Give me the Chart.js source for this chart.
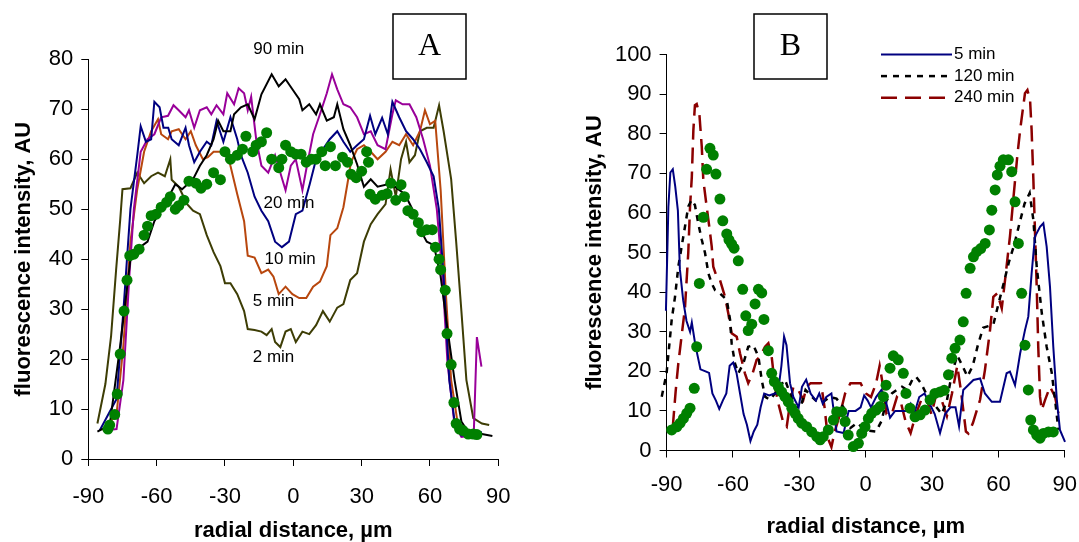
<!DOCTYPE html>
<html>
<head>
<meta charset="utf-8">
<title>Fluorescence intensity profiles</title>
<script src="https://cdn.jsdelivr.net/npm/chart.js@4.4.1/dist/chart.umd.min.js"></script>
<style>
    html, body { margin: 0; padding: 0; background: #ffffff; }
    #wrap { position: relative; width: 1079px; height: 542px; overflow: hidden; background: #ffffff; }
    canvas { position: absolute; top: 0; }
    #chartA { left: 0; }
    #chartB { left: 540px; }
</style>
</head>
<body>
<div id="wrap">
    <canvas id="chartA" width="540" height="542"></canvas>
    <canvas id="chartB" width="539" height="542"></canvas>
</div>
<script>
// ============================================================
// Data — panel A (radial distance, µm / fluorescence, AU)
// ============================================================

const xTicks = [-90, -60, -30, 0, 30, 60, 90];

const a90X = [-86, -80.6, -76, -71.5, -68.5, -64, -61, -56.4, -51.8, -48.8, -44, -41, -38, -35, -33, -30.7, -27.6, -26, -23, -20, -17, -14, -9.5, -6.4, -3.4, -0.4, 2.6, 4, 7, 10, 11.7, 14.7, 17.8, 19.3, 22, 25, 28, 31, 34, 37, 41.5, 44.6, 49, 52.6, 55.6, 58.6, 61.7, 64.7, 67.7, 70.8, 73.8, 76.8, 82.8, 87.4];
const a90Y = [5.5, 6.8, 22.7, 40, 42, 43.5, 47.6, 51, 55, 54, 56, 58.7, 60.8, 64, 67.7, 65.6, 65.6, 69, 70.4, 71, 68, 73, 77, 74.6, 76, 74, 72, 69.8, 71, 69, 71, 67.7, 68.4, 71, 66, 62.8, 59, 54.5, 56, 54.5, 55, 54.5, 53, 49.7, 46, 43.5, 42.8, 36.5, 26, 15.8, 7.5, 5.4, 5, 4.6];

const a20X = [-85, -77.6, -74.6, -71.5, -68.5, -67, -64.7, -62.4, -61, -58.7, -57, -54.9, -53.4, -50.3, -47.3, -45.8, -43.5, -41, -38, -36, -33.7, -30.7, -27.6, -24.6, -23, -20, -17, -14, -11, -8, -5, -1.9, 1.1, 4, 7.2, 10, 13, 16, 19.3, 22, 25, 28, 31, 33.7, 36, 39, 41.5, 43.5, 46.5, 49.5, 52.6, 55.6, 58.6, 61.6, 63.9, 66, 68.5, 70.8, 73.8, 79.9, 82.8];
const a20Y = [5.7, 12, 29.6, 50, 60.8, 66.6, 63.5, 64, 71.5, 70.4, 66.3, 66.3, 64, 62.8, 66.3, 62.8, 59.4, 61.5, 63.5, 62.8, 67.7, 63.5, 68.4, 64, 60.8, 57.3, 52.5, 49.7, 47.6, 43.5, 42.4, 43.5, 49, 49.7, 55, 60, 62, 64, 65.6, 63.5, 61.5, 62.8, 64, 68.7, 65, 68.3, 65, 71.5, 68.4, 65.6, 64, 62, 59.4, 56.6, 50, 36.5, 15.8, 7.5, 4.7, 5, 5.4];

const aPurpleX = [-83.6, -77.6, -74.6, -72, -70, -67, -64, -61, -58, -55, -52.6, -50.3, -47.3, -45.8, -43.5, -41, -38, -36, -33.7, -30.7, -29, -26, -24, -21.6, -20, -18.5, -16.3, -14, -11, -8, -5.7, -3.4, -1.1, 1.1, 4, 5.7, 8.7, 11.7, 14.7, 17, 19.3, 22, 25, 28, 31, 34, 37, 40.5, 43.5, 45, 48, 51, 54, 57, 60, 63, 65.5, 67.7, 70.8, 73.8, 79.2, 80.6, 82.6];
const aPurpleY = [5.7, 6, 15.8, 36.5, 50, 61.5, 64, 65, 68.4, 68.7, 70.8, 69.8, 68.4, 69.8, 66.3, 69.8, 70.4, 69, 70.8, 69, 73.2, 71, 74.2, 73.2, 69.8, 72.5, 64, 58.7, 57.3, 60.8, 57.3, 53.8, 58.7, 60, 53.8, 58, 65, 69, 73.2, 77, 74, 71, 70.4, 68.4, 65, 65.6, 62.8, 62, 69, 71.8, 71, 71, 68.4, 64, 58.7, 50, 36.5, 19.2, 6.8, 4.4, 4.7, 24.4, 18.5];

const a10X = [-83.6, -77.6, -74.6, -71.5, -68.5, -65.5, -62.4, -59.4, -58, -55, -53.4, -50.3, -47.3, -45, -42.8, -39.7, -37.5, -35, -32, -29, -27.6, -24.6, -21.6, -20, -17, -14, -11, -8.7, -6.4, -3.4, -0.4, 2.6, 5.7, 8.7, 11.7, 14.7, 16.3, 19.3, 22, 23.8, 25.3, 28, 31, 34, 37, 40.5, 43.5, 46.5, 49.5, 52.6, 55.6, 57.8, 60, 62.3, 64.7, 67, 69.3, 72.3, 75.3, 80];
const a10Y = [5.7, 8.9, 22.7, 43.5, 54, 61.5, 65.6, 68, 65, 64, 65.6, 66, 64, 65.6, 62.8, 60, 60.4, 61.5, 61.5, 62, 58.7, 53, 47.6, 40.7, 40.3, 37.2, 37.9, 36.5, 33, 34.5, 33, 32.2, 32.2, 34.5, 35.5, 38.6, 44.8, 46.2, 50.4, 55.2, 59.4, 62, 62.8, 61.5, 60, 61.5, 63.5, 62.8, 65, 62.8, 65.6, 69.8, 67, 67.7, 53.8, 33, 15.8, 6.8, 4.7, 4.6];

const a2X = [-86, -82.5, -80, -77.8, -76, -75, -71.5, -68.5, -65.5, -62.4, -59.4, -56.4, -54, -53.4, -50.3, -46.6, -44, -41, -38, -35, -32, -30, -27.6, -24.6, -21.6, -20, -17, -14, -11.7, -9.5, -8, -5.7, -3.4, -1.1, 1.1, 4, 7, 10, 13, 16, 19.3, 22, 25, 28, 31, 34, 37, 40.5, 42.7, 45, 47.3, 49.5, 51, 53.4, 55.6, 58.6, 61.6, 64, 66, 69.3, 71.5, 73.8, 76, 79, 82.8, 86];
const a2Y = [7.1, 15, 24.6, 37.8, 47.8, 54, 54.2, 57.3, 55.2, 56.6, 57.3, 56.6, 60, 55.9, 54.5, 51, 49.7, 49, 44.8, 41.4, 38.6, 35.2, 35.2, 33, 29.6, 26, 25.8, 25.5, 24.8, 26, 23.4, 22.4, 25.5, 26, 23.4, 25.5, 25, 26.8, 29.6, 27.5, 30.3, 31, 35.8, 37.2, 43.5, 47, 49, 51, 58, 52.5, 60, 63.5, 59.4, 60.8, 65.6, 66.3, 66.3, 70.8, 65.6, 56, 43.5, 29.6, 15.8, 8.2, 7.1, 6.8];

const aDotsX = [-81.4, -80.6, -78.4, -77.3, -76, -74.3, -73, -71.8, -70, -67.7, -65.5, -64, -62.4, -60.2, -58, -55.6, -54, -51.8, -50.3, -48, -45.8, -42.8, -40.5, -38, -35, -32, -30, -27.6, -24.6, -22.3, -20.8, -17.8, -16.3, -14, -11.7, -9.5, -6.4, -5, -3.4, -1.1, 1.1, 3.4, 5.7, 8, 10, 12.5, 14, 16.3, 18.5, 21.6, 23.8, 25.3, 27.6, 30, 32.2, 33, 33.7, 36, 39, 41.2, 42.8, 45, 47.3, 48.8, 50.3, 52.6, 54.9, 56.4, 58.6, 61, 62.4, 64, 64.7, 66.7, 67.5, 69.3, 70.5, 71.5, 73, 74.5, 76.8, 79, 80.6];
const aDotsY = [6, 6.8, 8.9, 13, 21, 29.6, 35.8, 40.7, 41, 42, 44.8, 46.6, 48.7, 49, 50.4, 51.4, 52.5, 50, 50.7, 51.8, 55.6, 55.2, 54.2, 55, 57.3, 55.9, 61.5, 60, 60.8, 62, 64.6, 61.5, 62.8, 63.5, 65.3, 60, 58.3, 60, 62.8, 61.5, 61, 61, 59.4, 60, 60, 61.5, 58.7, 62.5, 58.7, 60.4, 59.4, 57, 56.3, 57.6, 61.5, 59.4, 53, 52, 52.8, 53.1, 55.2, 51.8, 54.9, 52.5, 49.7, 49, 47.3, 45.5, 45.9, 45.9, 42.4, 40, 37.9, 33.8, 25.1, 18.9, 11.3, 7.1, 6, 5.7, 5, 5, 4.9];

// ============================================================
// Data — panel B
// ============================================================

const b5X = [-91.6, -90.3, -89.2, -88.3, -87.2, -86.1, -84.9, -84, -82.5, -81, -79.4, -78.6, -77, -74.7, -72.4, -70.8, -69.3, -67.7, -66.2, -64.6, -63, -61.5, -59.9, -58.4, -56.8, -55.2, -53.7, -52.1, -50.6, -49, -47.5, -45.9, -43.6, -41.2, -39.7, -38.1, -36.9, -35.8, -34.2, -32.7, -30.3, -28.8, -26.9, -24.9, -22.5, -21, -19.4, -17.8, -15.5, -13.2, -10, -7.7, -4.6, -2.3, -0.7, 0.9, 2.4, 4.7, 7.1, 8.6, 11, 13.3, 15.7, 18, 20.3, 21.9, 24.2, 26.6, 28.9, 31.2, 33.6, 35.9, 38.3, 40.6, 42.2, 44.1, 48.7, 51.7, 53.9, 57, 60.7, 63.7, 65.2, 67.5, 69.8, 72, 73.5, 75, 76.5, 78.8, 80.3, 81.8, 83.3, 84.8, 86.4, 87.8, 90.1, 92.4, 93.6];
const b5Y = [17.9, 35.3, 61.5, 70.2, 71, 66.7, 60.6, 45.8, 37.9, 32.7, 30, 32.3, 26.6, 20.5, 20, 19.6, 14.4, 12.6, 10.5, 12.6, 14.4, 21.4, 22.2, 19.6, 14.4, 9.2, 6.5, 2.4, 4.8, 6.5, 10.9, 14.4, 13.9, 14.4, 14.4, 21.4, 28.8, 26.6, 17, 13.5, 10.9, 16.1, 17.9, 14.4, 12.6, 14.4, 11.8, 13.5, 14.4, 4.8, 4.4, 10, 10, 10.9, 13.9, 12.6, 10.9, 13.5, 15.3, 13.5, 8.3, 10, 10, 10, 11.8, 9.2, 13.5, 14.4, 11.8, 9.2, 4.4, 9.2, 10.9, 10.9, 6.1, 15.3, 17.8, 18.2, 14.4, 12.3, 12.3, 19.5, 19.9, 16.5, 24.5, 30.4, 33.8, 44.7, 54, 56.5, 57.4, 51.5, 41.4, 26.2, 12.8, 5.2, 2.2, 4.3, 5.7];

const b120X = [-92.2, -90, -87.7, -86.2, -84.7, -83.2, -81.7, -80.2, -78.7, -77.2, -75.7, -74.1, -72.6, -71.1, -69.6, -68.1, -65.9, -62.8, -61.3, -60.6, -59.1, -57.6, -55.3, -53.1, -50.8, -48.5, -47, -45.5, -43.3, -41, -38.9, -36.5, -34.2, -31.9, -29.5, -27.2, -24.9, -22.5, -19.4, -16.3, -13.2, -10, -6.9, -3.8, -1.5, 1.6, 4.7, 7.1, 9.4, 11.8, 14.1, 16.4, 18.8, 21.1, 22.7, 25, 27.3, 29.7, 32, 34.4, 36.7, 39, 41.4, 43.7, 46, 48.4, 50.7, 53.1, 55.4, 57.7, 60, 62.4, 64.7, 67.1, 69.4, 71.8, 74.1, 75.8, 77.3, 79.6, 81.8, 84.1, 85.6, 87.1];
const b120Y = [13.6, 19.5, 33, 38.8, 46.4, 51.5, 56.5, 61.6, 63.3, 62, 57.4, 53.2, 49.8, 44.7, 42.2, 40.5, 39.7, 38, 33, 27.1, 22, 19.5, 22, 26.2, 26.6, 23.7, 17.8, 13.6, 12.8, 14.4, 16.1, 17.9, 14.4, 10.9, 10.9, 15.3, 13.9, 12.6, 12.2, 13.5, 13.1, 10.9, 5.7, 7, 5.7, 5, 4.8, 7.4, 12.6, 14.4, 15.3, 16.1, 15.3, 17.9, 18.7, 17, 14.4, 12.6, 10.9, 9.2, 12.6, 19.6, 24, 21.4, 18.7, 21.4, 26.6, 31, 31.4, 31.8, 37, 42.3, 47.5, 51.9, 57.1, 62.3, 65, 58.2, 46.4, 34.7, 26.2, 19.6, 12.8, 5.2];

const b240X = [-87.2, -85.9, -84.7, -83.2, -81.7, -80.2, -79.4, -78.6, -77.9, -77.2, -76.4, -75.2, -74.1, -73.4, -71.9, -70.7, -69.6, -68.9, -67.4, -65.9, -63.6, -62.1, -60.6, -58.3, -56.8, -54.6, -53.1, -51.1, -49.3, -47.8, -45.5, -44, -42.5, -41, -39.5, -37.2, -35.7, -34.2, -32.7, -30.5, -28.2, -26.7, -24.9, -22.5, -20.2, -18.6, -17.1, -15.5, -14, -11.6, -9.3, -6.9, -4.6, -2.3, 0.1, 2.4, 4.7, 6.3, 7.9, 9.4, 11.8, 14.1, 15.7, 18, 20.3, 22.7, 25, 27.3, 29.7, 32, 34.4, 36.7, 39, 41.4, 43, 45.3, 46.4, 48.5, 51.7, 53.9, 56.2, 57.7, 59.5, 61.5, 63, 65.2, 66.7, 68.5, 69.8, 71, 72, 73.1, 74.3, 75, 75.8, 76.5, 77.3, 78, 78.8, 79.6, 81.1, 83.3, 85.6, 87.1];
const b240Y = [6, 15, 22, 29, 36, 50, 61.6, 69.1, 80.9, 87.2, 87.5, 85.1, 76.7, 68.3, 61.6, 56.5, 51.5, 46.4, 43.9, 43.1, 38.8, 34.6, 29.6, 28.7, 24.5, 19.5, 17, 19.5, 22.9, 23.7, 26.2, 27.1, 23.7, 16.1, 11.9, 6.9, 6, 11.9, 16.1, 15.3, 12.8, 16.1, 17, 17, 17, 10.9, 3.1, 0.9, 4.8, 9.2, 14.4, 17, 17, 17, 14.4, 13.5, 17, 21.4, 16.1, 9.2, 9.2, 13.5, 12.6, 7.4, 4.4, 9.2, 12.6, 13.5, 9.2, 14.4, 12.6, 8.7, 14.4, 21.4, 15.3, 4.8, 4.3, 7, 12.8, 20.3, 30.4, 38.8, 39.7, 35.9, 43.1, 54, 63.3, 74.2, 80.9, 86, 90.2, 91, 88.5, 80.9, 68.3, 55.7, 41.4, 26.2, 13.6, 10.2, 12.8, 16.1, 13.6, 9.4];

const bDotsX = [-87.7, -85.4, -83.9, -82.4, -80.9, -79.4, -77.5, -76.4, -75.2, -73.4, -71.9, -70.4, -68.9, -67.7, -65.9, -64.6, -62.8, -61.8, -60.6, -59.5, -57.6, -55.6, -54.2, -53.1, -51.5, -50, -48.5, -47, -46, -44, -42.5, -41.3, -39.5, -38, -36.5, -35, -33.4, -31.9, -30.5, -28.9, -26.7, -24.4, -22.1, -20.6, -19.2, -16.9, -14.6, -13.1, -10.8, -9.3, -7.9, -5.6, -3.3, -1.8, -0.3, 1.2, 2.7, 4.7, 6.5, 8, 9.2, 11, 12.5, 14.7, 17, 18.2, 20, 22.3, 24.6, 26.8, 29.1, 31.3, 33.6, 35.5, 37.4, 38.9, 40.4, 42.6, 44.1, 45.4, 47.2, 48.7, 50.2, 52, 54, 55.9, 57, 58.5, 59.5, 60.7, 62.2, 64.5, 66, 67.5, 69, 70.5, 72, 73.5, 74.6, 75.8, 77.3, 78.8, 80.3, 82.6, 84.8];
const bDotsY = [5.2, 6, 6.9, 8.1, 9.4, 10.7, 15.7, 26.2, 42.2, 58.9, 71, 76.3, 74.6, 69.8, 63.5, 58, 54.7, 53.2, 52.1, 51.1, 47.9, 40.7, 34, 30.3, 31.9, 37, 40.7, 39.8, 33.1, 25.2, 19.5, 17.4, 16.1, 14.8, 13.6, 12.3, 10.7, 9.4, 8.1, 6.9, 6, 4.7, 3.5, 2.7, 3.5, 5.2, 7.7, 9.8, 9.8, 7.3, 3.9, 1, 1.8, 4.3, 6, 8.1, 9.4, 10.2, 11.1, 13.6, 16.5, 20.8, 23.9, 22.9, 19.5, 14.4, 10.7, 8.5, 9, 10.2, 12.8, 14.4, 14.8, 15.2, 19.1, 23.3, 25.8, 27.9, 32.5, 39.7, 46, 48.9, 50.2, 51, 52.3, 55.7, 60.7, 65.8, 69.6, 71.8, 73.4, 73.4, 70.4, 62.8, 52.3, 39.7, 26.6, 15.3, 7.7, 5.2, 3.9, 3.1, 4.3, 4.7, 4.7];

// ============================================================
// Styling
// ============================================================

const FONT = '"Liberation Sans", Arial, sans-serif';
const TICK_FONT = { family: FONT, size: 22 };
const TITLE_FONT = { family: FONT, size: 22, weight: 'bold' };
const DOT_GREEN = '#008000';

function toPoints(xs, ys) {
    return xs.map((x, i) => ({ x: x, y: ys[i] }));
}

function lineSet(label, xs, ys, color, dash, width, order) {
    return {
        label,
        data: toPoints(xs, ys),
        showLine: true,
        borderColor: color,
        backgroundColor: color,
        borderWidth: width || 2,
        borderDash: dash || [],
        pointRadius: 0,
        tension: 0,
        fill: false,
        clip: false,
        order: order,
    };
}

function dotSet(label, xs, ys) {
    return {
        label,
        data: toPoints(xs, ys),
        showLine: false,
        pointRadius: 5.5,
        pointBackgroundColor: DOT_GREEN,
        pointBorderWidth: 0,
        clip: false,
        order: 0,
    };
}

function xAxis(height, labelPad, titlePad, titleLineHeight) {
    return {
        type: 'linear',
        min: -90,
        max: 90,
        afterBuildTicks: scale => { scale.ticks = xTicks.map(v => ({ value: v })); },
        afterFit: scale => { scale.height = height; scale.paddingLeft = 0; scale.paddingRight = 0; },
        ticks: { color: '#000', font: TICK_FONT, padding: labelPad, maxRotation: 0, autoSkip: false },
        grid: { display: true, drawOnChartArea: false, drawTicks: true, tickLength: 7, color: '#000', tickColor: '#000', lineWidth: 1 },
        border: { display: true, color: '#000', width: 1 },
        title: {
            display: true,
            text: 'radial distance, µm',
            color: '#000',
            font: { ...TITLE_FONT, lineHeight: titleLineHeight },
            padding: { top: 0, bottom: titlePad },
        },
    };
}

function yAxis(max, width, titlePad) {
    return {
        type: 'linear',
        min: 0,
        max: max,
        afterFit: scale => { scale.width = width; scale.paddingTop = 0; scale.paddingBottom = 0; },
        ticks: { stepSize: 10, color: '#000', font: TICK_FONT, padding: 8 },
        grid: { display: true, drawOnChartArea: false, drawTicks: true, tickLength: 7, color: '#000', tickColor: '#000', lineWidth: 1 },
        border: { display: true, color: '#000', width: 1 },
        title: { display: true, text: 'fluorescence intensity, AU', color: '#000', font: TITLE_FONT, padding: { top: titlePad, bottom: 0 } },
    };
}

/**
 * Panel letter box, curve notes and a line-sample legend
 */
const panelDecor = {
    id: 'panelDecor',
    afterDatasetsDraw(chart, args, opts) {
        const ctx = chart.ctx;
        const xs = chart.scales.x;
        const ys = chart.scales.y;
        ctx.save();

        if (opts.box) {
            const b = opts.box;
            ctx.strokeStyle = '#000';
            ctx.lineWidth = 1.5;
            ctx.strokeRect(b.left, b.top, b.width, b.height);
            ctx.fillStyle = '#000';
            ctx.font = '32px "Liberation Serif", "Times New Roman", serif';
            ctx.textAlign = 'center';
            ctx.textBaseline = 'middle';
            ctx.fillText(b.text, b.left + b.width / 2, b.top + b.height / 2);
        }

        (opts.notes || []).forEach(n => {
            ctx.fillStyle = '#000';
            ctx.font = '17px ' + FONT;
            ctx.textAlign = 'center';
            ctx.textBaseline = 'middle';
            ctx.fillText(n.text, xs.getPixelForValue(n.x), ys.getPixelForValue(n.y));
        });

        if (opts.legend) {
            const lg = opts.legend;
            lg.items.forEach((label, i) => {
                const ds = chart.data.datasets.find(d => d.label === label);
                const y = lg.top + i * lg.rowGap;
                ctx.strokeStyle = ds.borderColor;
                ctx.lineWidth = ds.borderWidth;
                ctx.setLineDash(ds.borderDash || []);
                ctx.beginPath();
                ctx.moveTo(lg.lineFrom, y);
                ctx.lineTo(lg.lineTo, y);
                ctx.stroke();
                ctx.setLineDash([]);
                ctx.fillStyle = '#000';
                ctx.font = '17px ' + FONT;
                ctx.textAlign = 'left';
                ctx.textBaseline = 'middle';
                ctx.fillText(label, lg.textX, y);
            });
        }

        ctx.restore();
    },
};

const baseOptions = {
    responsive: false,
    animation: false,
    devicePixelRatio: 1,
    events: [],
};

// ============================================================
// Panel A
// ============================================================

new Chart(document.getElementById('chartA').getContext('2d'), {
    type: 'scatter',
    data: {
        datasets: [
            dotSet('dots', aDotsX, aDotsY),
            lineSet('90 min', a90X, a90Y, '#000000', [], 2, 1),
            lineSet('20 min', a20X, a20Y, '#000080', [], 2, 2),
            lineSet('purple', aPurpleX, aPurpleY, '#990099', [], 2, 3),
            lineSet('10 min', a10X, a10Y, '#B8470E', [], 2, 4),
            lineSet('2 min', a2X, a2Y, '#3D3D05', [], 2, 5),
        ],
    },
    options: {
        ...baseOptions,
        layout: { padding: { left: 0, right: 41.7, top: 59.3, bottom: 0 } },
        scales: {
            x: xAxis(83, 17.5, 0, 1.05),
            y: yAxis(80, 88.3, 10.8),
        },
        plugins: {
            legend: { display: false },
            tooltip: { enabled: false },
            panelDecor: {
                box: { left: 393, top: 14, width: 73, height: 65, text: 'A' },
                notes: [
                    { text: '90 min', x: -6.4, y: 82 },
                    { text: '20 min', x: -1.9, y: 51.1 },
                    { text: '10 min', x: -1.4, y: 39.9 },
                    { text: '5 min', x: -8.7, y: 31.6 },
                    { text: '2 min', x: -8.7, y: 20.4 },
                ],
            },
        },
    },
    plugins: [panelDecor],
});

// ============================================================
// Panel B
// ============================================================

new Chart(document.getElementById('chartB').getContext('2d'), {
    type: 'scatter',
    data: {
        datasets: [
            dotSet('dots', bDotsX, bDotsY),
            lineSet('5 min', b5X, b5Y, '#000080', [], 2, 1),
            lineSet('120 min', b120X, b120Y, '#000000', [6, 6], 2.5, 2),
            lineSet('240 min', b240X, b240Y, '#8B0000', [16, 8], 2.5, 3),
        ],
    },
    options: {
        ...baseOptions,
        layout: { padding: { left: 0, right: 14.2, top: 54.5, bottom: 0 } },
        scales: {
            x: xAxis(91.5, 14.5, 1.5, 1.2),
            y: yAxis(100, 126.6, 41.8),
        },
        plugins: {
            legend: { display: false },
            tooltip: { enabled: false },
            panelDecor: {
                box: { left: 214, top: 14, width: 73, height: 65, text: 'B' },
                legend: { items: ['5 min', '120 min', '240 min'], top: 54.5, rowGap: 21.6, lineFrom: 341, lineTo: 412, textX: 414 },
            },
        },
    },
    plugins: [panelDecor],
});
</script>
</body>
</html>
